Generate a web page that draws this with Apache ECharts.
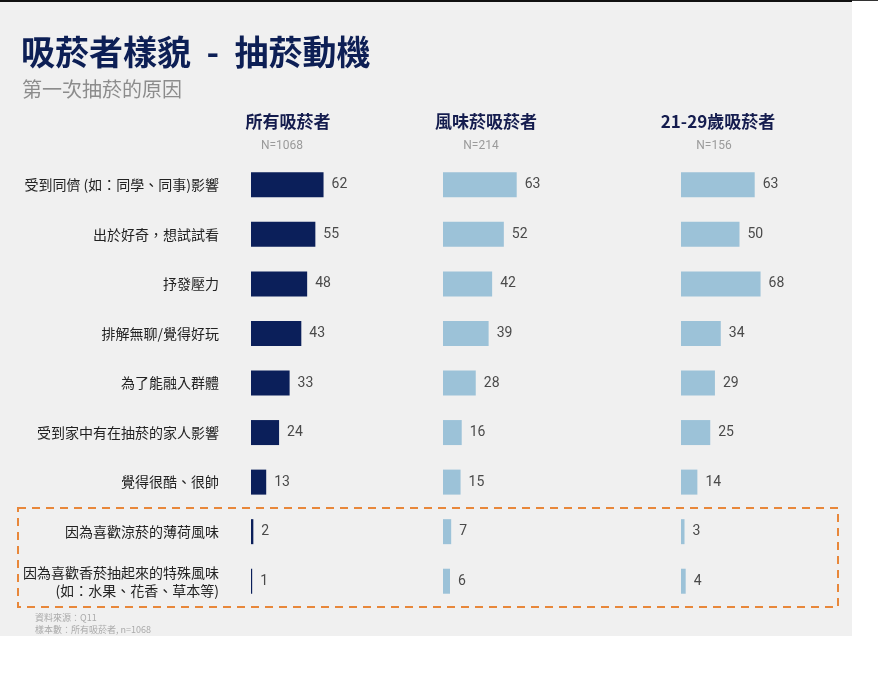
<!DOCTYPE html>
<html><head><meta charset="utf-8">
<script src="https://cdn.jsdelivr.net/npm/echarts@6/dist/echarts.min.js"></script>
<style>html,body{margin:0;padding:0;background:#fff}#c{width:878px;height:677px}</style>
</head><body><div id="c"></div>
<script>
var categories = [
  '受到同儕 (如：同學、同事)影響',
  '出於好奇，想試試看',
  '抒發壓力',
  '排解無聊/覺得好玩',
  '為了能融入群體',
  '受到家中有在抽菸的家人影響',
  '覺得很酷、很帥',
  '因為喜歡涼菸的薄荷風味',
  '因為喜歡香菸抽起來的特殊風味\n(如：水果、花香、草本等)'
];
var allSmokers = [62, 55, 48, 43, 33, 24, 13, 2, 1];
var flavorSmokers = [63, 52, 42, 39, 28, 16, 15, 7, 6];
var age2129Smokers = [63, 50, 68, 34, 29, 25, 14, 3, 4];
var groupNames = ['所有吸菸者', '風味菸吸菸者', '21-29歲吸菸者'];
var groupN = ['N=1068', 'N=214', 'N=156'];

var CJK = '"Noto Sans CJK TC","Noto Sans CJK SC",sans-serif';
var NUM = 'Roboto,"Noto Sans CJK TC",sans-serif';
var navy = '#0b1f5a';
var light = '#9cc2d8';

var chart = echarts.init(document.getElementById('c'));
var lefts = [251, 443, 681];
var grids = lefts.map(function (l) { return { left: l, top: 160, width: 117, height: 446 }; });
var xAxes = lefts.map(function (l, i) {
  return { type: 'value', gridIndex: i, min: 0, max: 100, show: false };
});
var yAxes = lefts.map(function (l, i) {
  return {
    type: 'category', gridIndex: i, data: categories, inverse: true,
    axisLine: { show: false }, axisTick: { show: false }, splitLine: { show: false },
    axisLabel: i === 0 ? {
      show: true, margin: 32, color: '#222', fontSize: 14, fontFamily: CJK,
      align: 'right', lineHeight: 18
    } : { show: false }
  };
});
var datasets = [allSmokers, flavorSmokers, age2129Smokers];
var colors = [navy, light, light];
var series = datasets.map(function (d, i) {
  return {
    type: 'bar', xAxisIndex: i, yAxisIndex: i, data: d, barWidth: 25,
    itemStyle: { color: colors[i] },
    label: { show: true, position: 'right', distance: 8, color: '#4a4a4a', fontSize: 14, fontFamily: NUM },
    silent: true
  };
});

var headerX = [288, 486, 718];
var nX = [282, 481, 714];
var graphics = [
  { type: 'rect', shape: { x: 0, y: 0, width: 852, height: 636 }, style: { fill: '#f0f0f0' }, z: -10 },
  { type: 'rect', shape: { x: 0, y: 0, width: 852, height: 2 }, style: { fill: '#111' }, z: 10 },
  { type: 'rect', shape: { x: 852, y: 0, width: 26, height: 1 }, style: { fill: '#333' }, z: 10 },
  { type: 'text', left: 21, top: 35, style: { text: '吸菸者樣貌  -  抽菸動機', fill: '#0d1f55', font: 'bold 34px ' + CJK } },
  { type: 'text', left: 22, top: 79, style: { text: '第一次抽菸的原因', fill: '#8c8c8c', font: '20px ' + CJK } },
  { type: 'rect', shape: { x: 18, y: 508, width: 820, height: 99 }, style: { fill: 'none', stroke: '#e8873a', lineWidth: 2, lineDash: [8, 6] }, z: 5 },
  { type: 'text', left: 35, top: 613, style: { text: '資料來源：Q11', fill: '#aaa', font: '9px ' + CJK } },
  { type: 'text', left: 35, top: 625, style: { text: '樣本數：所有吸菸者, n=1068', fill: '#aaa', font: '9px ' + CJK } }
];
groupNames.forEach(function (g, i) {
  graphics.push({ type: 'text', x: headerX[i], y: 122, style: { text: g, fill: '#141c4e', font: 'bold 17px ' + CJK, align: 'center', verticalAlign: 'middle' } });
  graphics.push({ type: 'text', x: nX[i], y: 146, style: { text: groupN[i], fill: '#9a9a9a', font: '12px ' + NUM, align: 'center', verticalAlign: 'middle' } });
});

chart.setOption({
  backgroundColor: '#fff',
  animation: false,
  grid: grids,
  xAxis: xAxes,
  yAxis: yAxes,
  series: series,
  graphic: graphics
});
</script></body></html>
